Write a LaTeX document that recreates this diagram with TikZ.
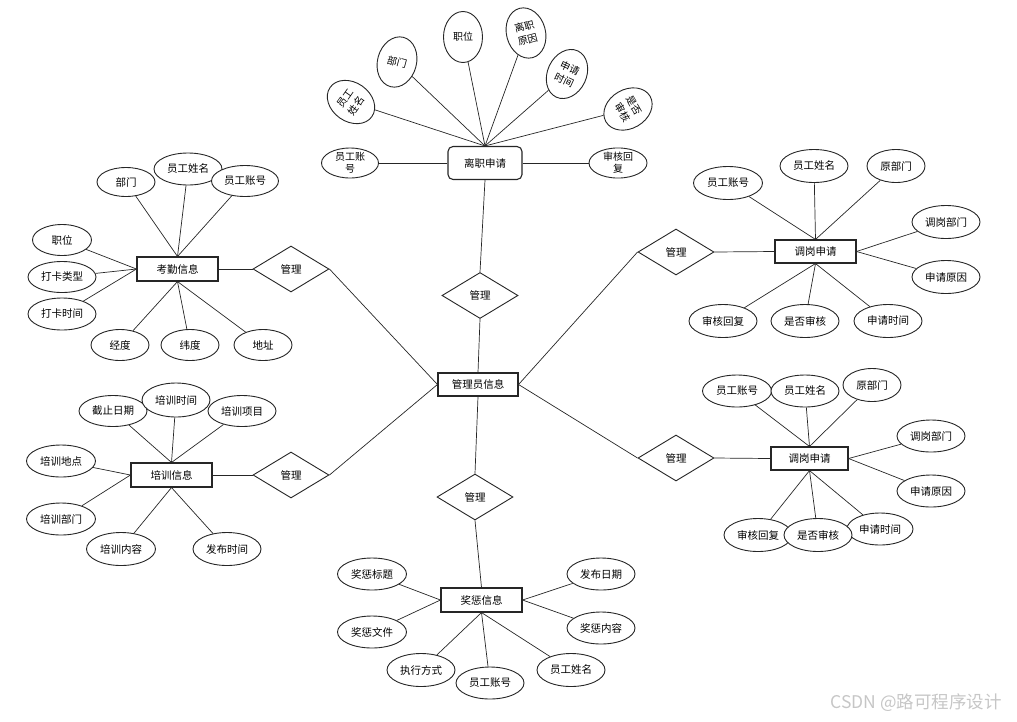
\documentclass[tikz,border=0pt]{standalone}
\usepackage{fontspec}
\setmainfont{Noto Sans CJK SC}
\usepackage{tikz}
\usetikzlibrary{shapes.geometric, backgrounds}
\tikzstyle{entity} = [rectangle, draw=black!85, line width=1.1pt, fill=white, minimum width=81pt, minimum height=24pt, inner sep=0pt]
\tikzstyle{attr}   = [ellipse, draw=black!85, line width=0.9pt, fill=white, minimum width=68pt, minimum height=32pt, inner sep=0pt, align=center]
\tikzstyle{attrs}  = [attr, minimum width=58pt, minimum height=31pt]
\tikzstyle{attrv}  = [attr, minimum width=39pt, minimum height=51pt, font=\fontsize{10}{13.5}\selectfont]
\tikzstyle{rel}    = [diamond, aspect=1.65, draw=black!85, line width=0.9pt, fill=white, minimum width=76pt, minimum height=46pt, inner sep=0pt]
\tikzstyle{link}   = [line width=0.7pt, black!85]

\begin{document}
\begin{tikzpicture}[x=1pt, y=-1pt, every node/.style={font=\fontsize{10.5}{12}\selectfont}]
  \useasboundingbox (0,0) rectangle (1017,721);

  % centre - admin and relations
  \node[entity, minimum width=80pt, minimum height=23pt] (admin) at (478,384.5) {管理员信息};
  \node[rel] (rTop) at (480,295.5) {管理};
  \node[rel] (rKq)  at (291,269)   {管理};
  \node[rel] (rPx)  at (291,475)   {管理};
  \node[rel] (rTg1) at (676,252)   {管理};
  \node[rel] (rTg2) at (676,458)   {管理};
  \node[rel] (rJc)  at (475,497)   {管理};

  % top - resignation request
  \node[entity, rounded corners=5pt, minimum width=74pt, minimum height=33pt] (lizhi) at (485,163) {离职申请};
  \node[attr, minimum width=57pt, minimum height=30pt, font=\fontsize{10}{12}\selectfont] (lzZh) at (350,163) {员工账\\号};
  \node[attr, minimum width=58pt, minimum height=30pt, font=\fontsize{10}{12}\selectfont] (lzFh) at (618,163) {审核回\\复};
  \node[attrv, rotate=55]  (lzXm) at (351,102) {员工\\姓名};
  \node[attrv, rotate=-15] (lzBm) at (397,62)  {部门};
  \node[attrv]             (lzZw) at (463,37)  {职位};
  \node[attrv, rotate=15]  (lzYy) at (526,33)  {离职\\原因};
  \node[attrv, rotate=-25] (lzSj) at (567,74)  {申请\\时间};
  \node[attrv, rotate=-60] (lzSh) at (628,109) {是否\\审核};

  % left top - attendance
  \node[entity] (kq) at (177.5,269) {考勤信息};
  \node[attrs, minimum height=29pt] (kqBm) at (126,182) {部门};
  \node[attr] (kqXm) at (188,169) {员工姓名};
  \node[attr, minimum width=67pt, minimum height=31pt] (kqZh) at (245,181) {员工账号};
  \node[attrs, minimum width=59pt] (kqZw) at (62,240) {职位};
  \node[attr, minimum height=31pt] (kqLx) at (62,277) {打卡类型};
  \node[attr] (kqSj) at (62,314) {打卡时间};
  \node[attrs] (kqJd) at (120,345) {经度};
  \node[attrs] (kqWd) at (190,345) {纬度};
  \node[attrs] (kqDz) at (263,345) {地址};

  % left bottom - training
  \node[entity] (px) at (171.5,475) {培训信息};
  \node[attr, minimum height=31pt] (pxJz) at (113,411) {截止日期};
  \node[attr, minimum height=31pt] (pxXm) at (242,411) {培训项目};
  \node[attr, minimum height=34pt] (pxSj) at (176,400) {培训时间};
  \node[attr, minimum width=69pt] (pxDd) at (61,461) {培训地点};
  \node[attr, minimum width=69pt] (pxBm) at (61,519) {培训部门};
  \node[attr, minimum width=69pt, minimum height=33pt] (pxNr) at (121,549) {培训内容};
  \node[attr, minimum height=33pt] (pxFb) at (227,549) {发布时间};

  % right top - transfer request
  \node[entity, minimum height=23pt] (tg1) at (815.5,251.5) {调岗申请};
  \node[attr, minimum width=69pt, minimum height=33pt] (tg1Zh) at (728,183) {员工账号};
  \node[attr, minimum height=33pt] (tg1Xm) at (814,166) {员工姓名};
  \node[attrs, minimum height=33pt] (tg1Bm) at (896,166) {原部门};
  \node[attr, minimum height=33pt] (tg1Tg) at (946,222) {调岗部门};
  \node[attr, minimum height=33pt] (tg1Yy) at (946,277) {申请原因};
  \node[attr, minimum height=33pt] (tg1Fh) at (723,321) {审核回复};
  \node[attr, minimum height=33pt] (tg1Sh) at (805,321) {是否审核};
  \node[attr, minimum height=33pt] (tg1Sj) at (888,321) {申请时间};

  % right bottom - transfer request
  \node[entity, minimum width=77pt, minimum height=23pt] (tg2) at (809.5,458.5) {调岗申请};
  \node[attr, minimum width=69pt] (tg2Zh) at (737,391) {员工账号};
  \node[attr] (tg2Xm) at (805,391) {员工姓名};
  \node[attrs, minimum height=33pt] (tg2Bm) at (872,385) {原部门};
  \node[attr] (tg2Tg) at (931,436) {调岗部门};
  \node[attr] (tg2Yy) at (931,491) {申请原因};
  \node[attr, minimum height=33pt] (tg2Fh) at (758,535) {审核回复};
  \node[attr, minimum width=66pt, minimum height=32pt] (tg2Sj) at (880,529) {申请时间};
  \node[attr, minimum height=33pt] (tg2Sh) at (818,535) {是否审核};

  % bottom - rewards and penalties
  \node[entity] (jc) at (481.5,600) {奖惩信息};
  \node[attr, minimum width=69pt] (jcBt) at (372,574) {奖惩标题};
  \node[attr, minimum width=69pt] (jcWj) at (372,632) {奖惩文件};
  \node[attr, minimum height=33pt] (jcFs) at (421,670) {执行方式};
  \node[attr] (jcZh) at (490,683) {员工账号};
  \node[attr, minimum height=33pt] (jcXm) at (571,670) {员工姓名};
  \node[attr] (jcRq) at (601,574) {发布日期};
  \node[attr] (jcNr) at (601,628) {奖惩内容};

  \node[text=gray!45, font=\fontsize{17.5}{19}\selectfont] (wm) at (916,703) {CSDN @路可程序设计};

  \begin{scope}[on background layer]
    % relations
    \draw[link] (admin.north) -- (rTop.south);
    \draw[link] (rTop.north) -- (lizhi.south);
    \draw[link] (admin.west) -- (rKq.east);
    \draw[link] (rKq.west) -- (kq.east);
    \draw[link] (admin.west) -- (rPx.east);
    \draw[link] (rPx.west) -- (px.east);
    \draw[link] (admin.east) -- (rTg1.west);
    \draw[link] (rTg1.east) -- (tg1.west);
    \draw[link] (admin.east) -- (rTg2.west);
    \draw[link] (rTg2.east) -- (tg2.west);
    \draw[link] (admin.south) -- (rJc.north);
    \draw[link] (rJc.south) -- (jc.north);

    % resignation attributes
    \draw[link] (lizhi.west) -- (lzZh);
    \draw[link] (lizhi.east) -- (lzFh);
    \draw[link] (lizhi.north) -- (lzXm);
    \draw[link] (lizhi.north) -- (lzBm);
    \draw[link] (lizhi.north) -- (lzZw);
    \draw[link] (lizhi.north) -- (lzYy);
    \draw[link] (lizhi.north) -- (lzSj);
    \draw[link] (lizhi.north) -- (lzSh);

    % attendance attributes
    \draw[link] (kq.north) -- (kqBm);
    \draw[link] (kq.north) -- (kqXm);
    \draw[link] (kq.north) -- (kqZh);
    \draw[link] (kq.west) -- (kqZw);
    \draw[link] (kq.west) -- (kqLx);
    \draw[link] (kq.west) -- (kqSj);
    \draw[link] (kq.south) -- (kqJd);
    \draw[link] (kq.south) -- (kqWd);
    \draw[link] (kq.south) -- (kqDz);

    % training attributes
    \draw[link] (px.north) -- (pxJz);
    \draw[link] (px.north) -- (pxSj);
    \draw[link] (px.north) -- (pxXm);
    \draw[link] (px.west) -- (pxDd);
    \draw[link] (px.west) -- (pxBm);
    \draw[link] (px.south) -- (pxNr);
    \draw[link] (px.south) -- (pxFb);

    % transfer attributes
    \draw[link] (tg1.north) -- (tg1Zh);
    \draw[link] (tg1.north) -- (tg1Xm);
    \draw[link] (tg1.north) -- (tg1Bm);
    \draw[link] (tg1.east) -- (tg1Tg);
    \draw[link] (tg1.east) -- (tg1Yy);
    \draw[link] (tg1.south) -- (tg1Fh);
    \draw[link] (tg1.south) -- (tg1Sh);
    \draw[link] (tg1.south) -- (tg1Sj);
    \draw[link] (tg2.north) -- (tg2Zh);
    \draw[link] (tg2.north) -- (tg2Xm);
    \draw[link] (tg2.north) -- (tg2Bm);
    \draw[link] (tg2.east) -- (tg2Tg);
    \draw[link] (tg2.east) -- (tg2Yy);
    \draw[link] (tg2.south) -- (tg2Fh);
    \draw[link] (tg2.south) -- (tg2Sh);
    \draw[link] (tg2.south) -- (tg2Sj);

    % reward attributes
    \draw[link] (jc.west) -- (jcBt);
    \draw[link] (jc.west) -- (jcWj);
    \draw[link] (jc.east) -- (jcRq);
    \draw[link] (jc.east) -- (jcNr);
    \draw[link] (jc.south) -- (jcFs);
    \draw[link] (jc.south) -- (jcZh);
    \draw[link] (jc.south) -- (jcXm);
  \end{scope}

\end{tikzpicture}
\end{document}
